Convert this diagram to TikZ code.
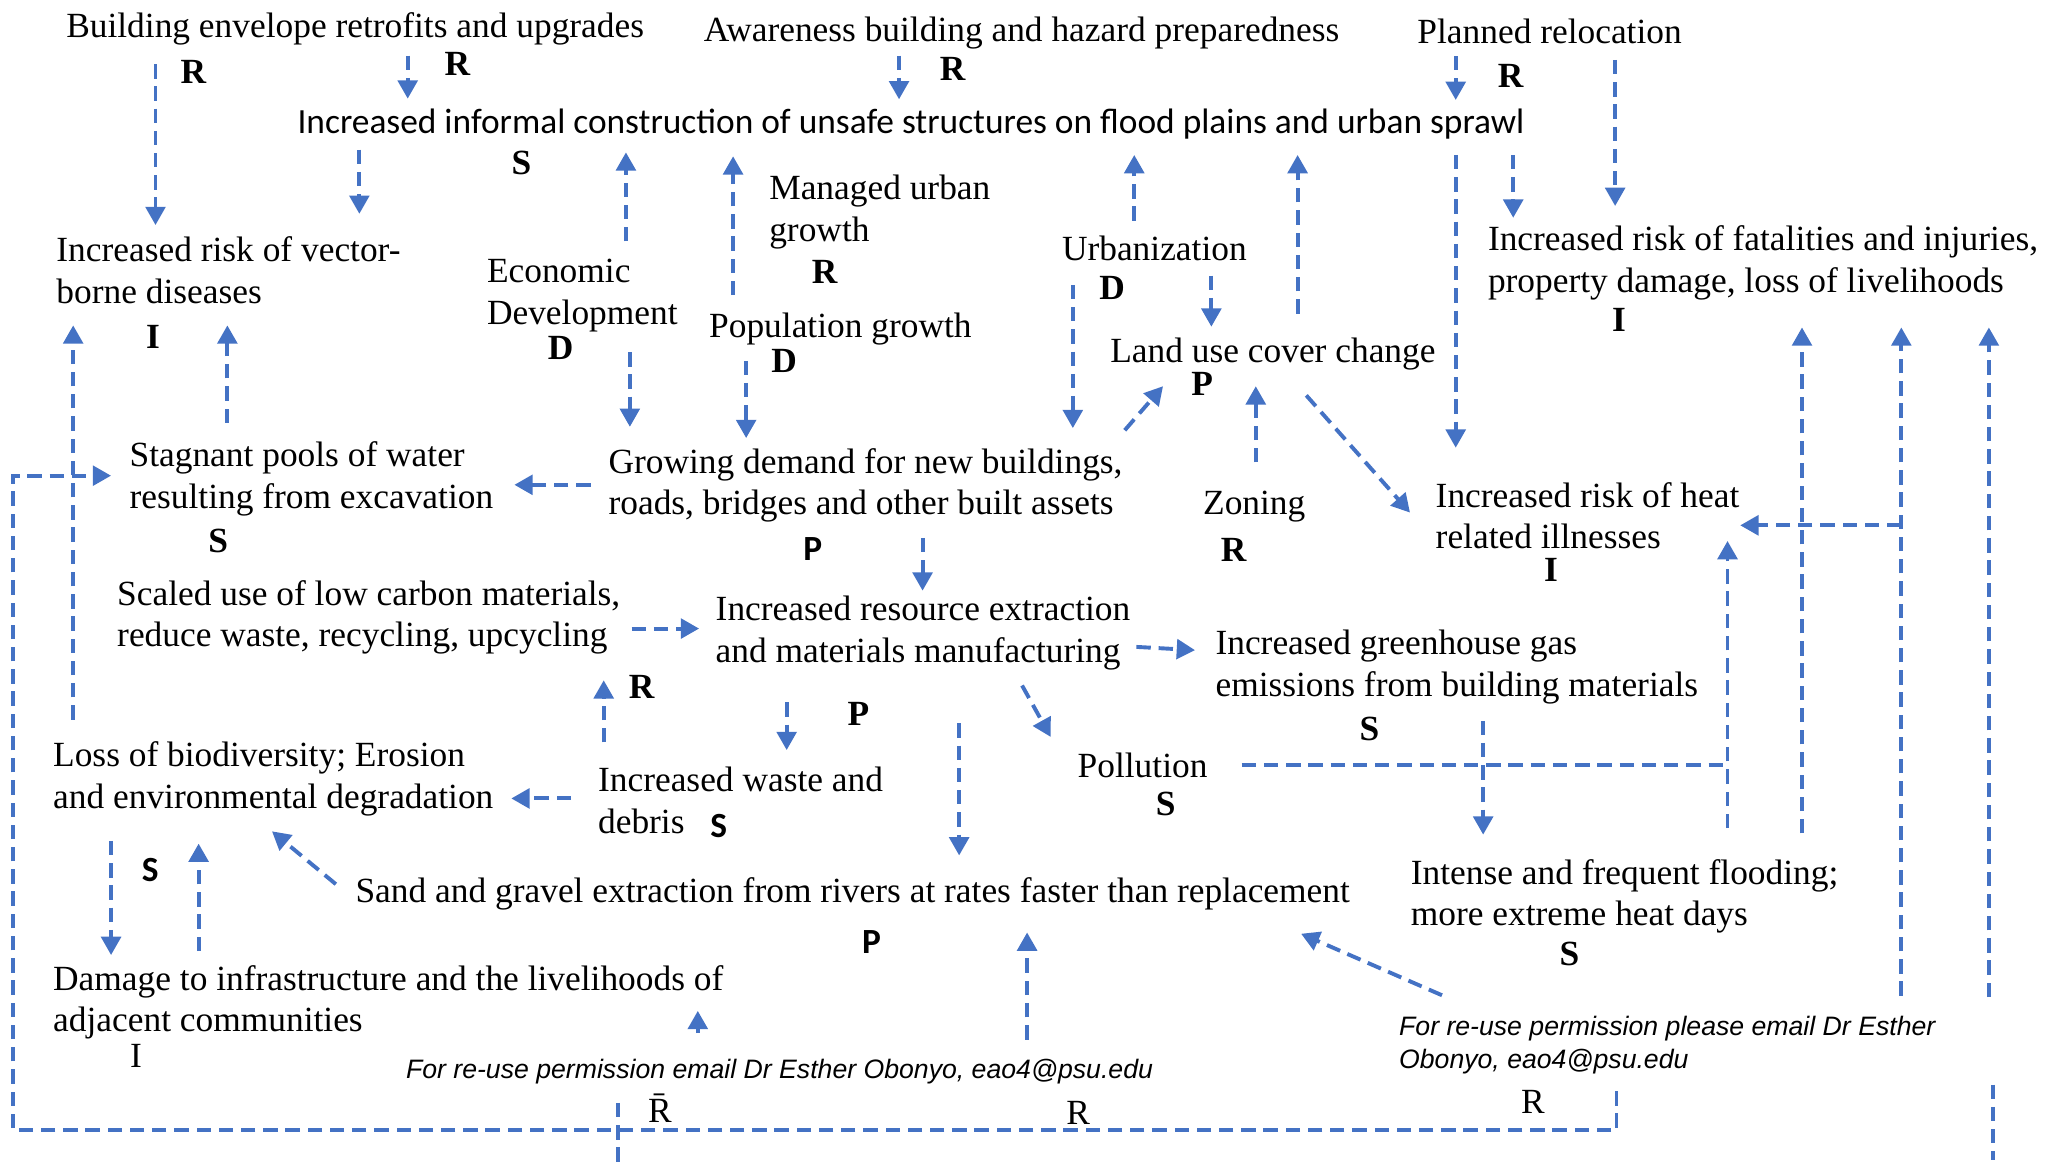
\documentclass[tikz,border=0pt]{standalone}
\usepackage{fontspec}
\setmainfont{Liberation Serif}
\newfontfamily\calfont{Carlito}
\newfontfamily\notefont{Liberation Sans}
\usetikzlibrary{arrows.meta,calc,positioning}
\definecolor{loopblue}{HTML}{4472C4}
\newcommand{\figtext}{\fontsize{7.7}{9.1}\selectfont}
\newcommand{\notetext}{\fontsize{5.8}{7.25}\selectfont\notefont\itshape}

\begin{document}
\begin{tikzpicture}[x=0.01cm, y=-0.01cm,
  factor/.style={font=\figtext, align=left, inner sep=0pt, anchor=base west},
  tag/.style={font=\figtext\bfseries, inner sep=0pt},
  sanstag/.style={font=\figtext\calfont\bfseries, inner sep=0pt},
  plaintag/.style={font=\figtext, inner sep=0pt},
  note/.style={font=\notetext, align=left, inner sep=0pt, anchor=base west},
  link/.style={draw=loopblue, line width=0.85pt, dash pattern=on .11cm off .06cm},
  flow/.style={link, -{Triangle[width=.15cm,length=.14cm]}}
]
  \useasboundingbox (0,0) rectangle (1568,893);

  % factors (base = last line)
  \node[factor] (bev) at (50,28.5) {Building envelope retrofits and upgrades};
  \node[factor] (abh) at (538,31.6) {Awareness building and hazard preparedness};
  \node[factor] (prl) at (1084,32.9) {Planned relocation};
  \node[factor, font=\figtext\calfont] (inf) at (227,102.5) {Increased informal construction of unsafe structures on flood plains and urban sprawl};
  \node[factor] (vbd) at (42.5,232) {Increased risk of vector-\\borne diseases};
  \node[factor] (ecd) at (372,248) {Economic\\Development};
  \node[factor] (mug) at (588,185) {Managed urban\\growth};
  \node[factor] (pog) at (542,258) {Population growth};
  \node[factor] (urb) at (812,199) {Urbanization};
  \node[factor] (luc) at (849,277.5) {Land use cover change};
  \node[factor] (fat) at (1138,224) {Increased risk of fatalities and injuries,\\property damage, loss of livelihoods};
  \node[factor] (stp) at (98.5,389) {Stagnant pools of water\\resulting from excavation};
  \node[factor] (gdm) at (465,394) {Growing demand for new buildings,\\roads, bridges and other built assets};
  \node[factor] (zon) at (920,393.5) {Zoning};
  \node[factor] (hri) at (1098,420) {Increased risk of heat\\related illnesses};
  \node[factor] (scu) at (89,495) {Scaled use of low carbon materials,\\reduce waste, recycling, upcycling};
  \node[factor] (rex) at (547,507) {Increased resource extraction\\and materials manufacturing};
  \node[factor] (ghg) at (929.5,533) {Increased greenhouse gas\\emissions from building materials};
  \node[factor] (pol) at (824,595) {Pollution};
  \node[factor] (iwd) at (457,638) {Increased waste and\\debris};
  \node[factor] (lob) at (40,618.5) {Loss of biodiversity; Erosion\\and environmental degradation};
  \node[factor] (sgx) at (271.4,691) {Sand and gravel extraction from rivers at rates faster than replacement};
  \node[factor] (dmg) at (40,789.6) {Damage to infrastructure and the livelihoods of\\adjacent communities};
  \node[factor] (ifl) at (1079,708.5) {Intense and frequent flooding;\\more extreme heat days};
  \node[note] (wm1) at (310,825.5) {For re-use permission email Dr Esther Obonyo, eao4@psu.edu};
  \node[note] (wm2) at (1070,818) {For re-use permission please email Dr Esther\\Obonyo, eao4@psu.edu};

  \node[tag] (r1) at (148,55) {R};
  \node[tag] (r2) at (350,49) {R};
  \node[tag] (r3) at (729,53) {R};
  \node[tag] (r4) at (1156,58) {R};
  \node[tag] (s1) at (399,125) {S};
  \node[tag] (i1) at (117,258) {I};
  \node[tag] (r5) at (631,208) {R};
  \node[tag] (d1) at (429,266) {D};
  \node[tag] (d2) at (600,276) {D};
  \node[tag] (d3) at (851,220) {D};
  \node[tag] (p1) at (920,294) {P};
  \node[tag] (i2) at (1239,245) {I};
  \node[tag] (s2) at (167,414) {S};
  \node[sanstag] (p2) at (622,420) {P};
  \node[tag] (r6) at (944,421) {R};
  \node[tag] (i3) at (1187,436) {I};
  \node[tag] (r7) at (491,526) {R};
  \node[tag] (p3) at (657,546) {P};
  \node[tag] (s3) at (1048,558) {S};
  \node[tag] (s4) at (892,615) {S};
  \node[sanstag] (s5) at (550,632) {S};
  \node[sanstag] (s6) at (115,666) {S};
  \node[sanstag] (p4) at (667,721) {P};
  \node[tag] (s7) at (1201,730) {S};
  \node[plaintag] (i4) at (104,808) {I};
  \node[plaintag, anchor=base] (r8) at (505,859) {\={R}};
  \node[plaintag] (r9) at (825,852) {R};
  \node[plaintag] (r10) at (1173,843) {R};

  % responses from the top row
  \draw[flow, shorten <=.14cm, shorten >=.08cm] (bev.south -| 119,0) -- (vbd.north -| 119,0);
  \draw[flow, shorten <=.076cm, shorten >=.075cm] (bev.south -| 312,0) -- (inf.north -| 312,0);
  \draw[flow, shorten <=.045cm, shorten >=.07cm] (abh.south -| 688,0) -- (inf.north -| 688,0);
  \draw[flow, shorten <=.09cm, shorten >=.065cm] (prl.south -| 1114,0) -- (inf.north -| 1114,0);
  \draw[flow, shorten <=.12cm, shorten >=.146cm] (prl.south -| 1236,0) -- (fat.north -| 1236,0);

  % informal construction
  \draw[flow, shorten <=.07cm, shorten >=.166cm] (inf.south -| 275,0) -- (vbd.north -| 275,0);
  \draw[flow, shorten <=.126cm, shorten >=.09cm] (ecd.north -| 479,0) -- (inf.south -| 479,0);
  \draw[flow, shorten <=.126cm, shorten >=.12cm] (pog.north -| 561,0) -- (inf.south -| 561,0);
  \draw[flow, shorten <=.106cm, shorten >=.11cm] (urb.north -| 868,0) -- (inf.south -| 868,0);
  \draw[flow, shorten <=.18cm, shorten >=.11cm] (luc.north -| 993,0) -- (inf.south -| 993,0);
  \draw[flow, shorten <=.11cm, shorten >=.256cm] (inf.south -| 1114,0) -- (hri.north -| 1114,0);
  \draw[flow, shorten <=.11cm, shorten >=.056cm] (inf.south -| 1158,0) -- (fat.north -| 1158,0);
  \draw[flow, shorten <=.136cm, shorten >=.16cm] (stp.north -| 174,0) -- (vbd.south -| 174,0);
  \draw[flow, shorten <=.16cm, shorten >=.16cm] (lob.north -| 56,0) -- (vbd.south -| 56,0);

  % drivers of demand
  \draw[flow, shorten <=.15cm, shorten >=.156cm] (ecd.south -| 482,0) -- (gdm.north -| 482,0);
  \draw[flow, shorten <=.115cm, shorten >=.07cm] (pog.south -| 571,0) -- (gdm.north -| 571,0);
  \draw[flow, shorten <=.18cm, shorten >=.146cm] (urb.south -| 821,0) -- (gdm.north -| 821,0);
  \draw[flow, shorten <=.11cm, shorten >=.08cm] (urb.south -| 927,0) -- (luc.north -| 927,0);
  \draw[flow] ($(gdm.north east)+(1,-13)$) -- ($(luc.south west)+(41,11.5)$);
  \draw[flow, shorten <=.21cm, shorten >=.115cm] (zon.north -| 961,0) -- (luc.south -| 961,0);
  \draw[flow] ($(luc.south)+(25.5,18.5)$) -- ($(hri.north west)+(-19,24)$);

  % growing demand and materials
  \draw[flow, shorten <=.13cm, shorten >=.155cm] (gdm.west |- 0,371) -- (stp.east |- 0,371);
  \draw[flow, shorten <=.11cm, shorten >=.035cm] (gdm.south -| 706,0) -- (rex.north -| 706,0);
  \draw[flow, shorten <=.08cm, shorten >=.12cm] (scu.east |- 0,481) -- (rex.west |- 0,481);
  \draw[flow] ($(rex.east)+(4,10.5)$) -- ($(ghg.west)+(-15,-13)$);
  \draw[flow] ($(rex.south east)+(-83.5,11)$) -- ($(pol.north west)+(-20,-11.6)$);
  \draw[flow, shorten <=.24cm, shorten >=.125cm] (rex.south -| 602,0) -- (iwd.north -| 602,0);
  \draw[flow, shorten <=.40cm, shorten >=.166cm] (rex.south -| 734,0) -- (sgx.north -| 734,0);
  \draw[flow, shorten <=.185cm, shorten >=.19cm] (iwd.north -| 462,0) -- (scu.south -| 462,0);
  \draw[flow, shorten <=.2cm, shorten >=.13cm] (iwd.west |- 0,611) -- (lob.east |- 0,611);

  % emissions, pollution and flooding
  \draw[flow, shorten <=.12cm, shorten >=.18cm] (ghg.south -| 1135,0) -- (ifl.north -| 1135,0);
  \draw[link, shorten <=.255cm] (pol.east) -- (pol.east -| 1322,0);
  \draw[flow, shorten <=.23cm, shorten >=-.07cm] (ifl.north -| 1322,0) -- (hri.south -| 1322,0);
  \draw[flow, shorten <=.19cm, shorten >=.20cm] (ifl.north -| 1379,0) -- (fat.south -| 1379,0);
  \coordinate (rb1) at (1455,762);
  \coordinate (rb2) at (1522,763);
  \coordinate (rb3) at (1525,830);
  \draw[flow, shorten >=.20cm] (rb1) -- (fat.south -| rb1);
  \draw[flow] (rb1 |- 0,402) -- (hri.east |- 0,402);
  \draw[flow, shorten >=.20cm] (rb2) -- (fat.south -| rb2);
  \draw[link] (rb3) -- (rb3 |- 0,888);

  % lower left
  \draw[flow, shorten <=.185cm, shorten >=.07cm] (lob.south -| 85,0) -- (dmg.north -| 85,0);
  \draw[flow, shorten <=.10cm, shorten >=.205cm] (dmg.north -| 152,0) -- (lob.south -| 152,0);
  \draw[flow] ($(sgx.west)+(-14.4,-7.8)$) -- ($(lob.south)+(-1,11.1)$);

  % bottom notes
  \draw[flow, shorten <=.195cm, shorten >=-.225cm] (wm1.north -| 534,0) -- (dmg.south -| 534,0);
  \draw[flow, shorten <=.145cm, shorten >=.16cm] (wm1.north -| 786,0) -- (sgx.south -| 786,0);
  \draw[flow] ($(wm2.north west)+(33.5,-15.4)$) -- ($(sgx.south east)+(-38,17)$);
  \coordinate (lp) at (1237,835);
  \coordinate (cut) at (473,844);
  \draw[flow, shorten >=.135cm] (lp) -- (1237,865) -| (10,364) -- (stp.west |- 0,364);
  \draw[link] (cut) -- (cut |- 0,893);
\end{tikzpicture}
\end{document}
